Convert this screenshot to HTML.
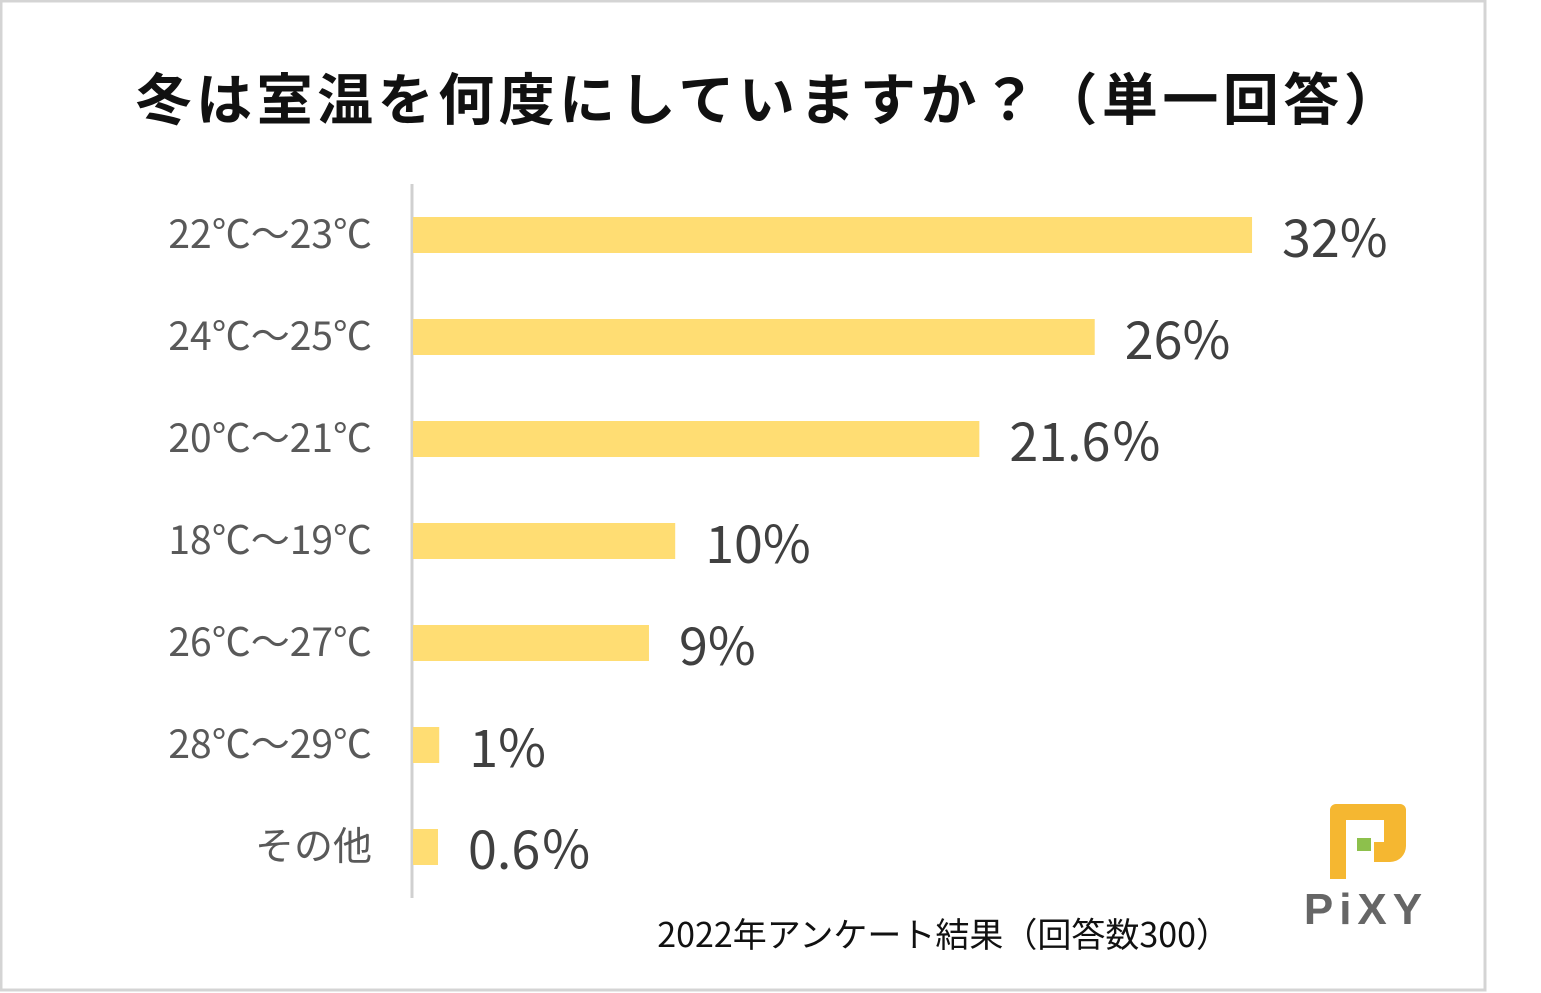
<!DOCTYPE html>
<html><head><meta charset="utf-8"><style>
html,body{margin:0;padding:0;background:#fff;}
#wrap{position:relative;width:1541px;height:993px;overflow:hidden;font-family:"Liberation Sans","Noto Sans CJK JP",sans-serif;}
</style></head><body>
<div id="wrap">
<svg id="chart" width="1541" height="993" xmlns="http://www.w3.org/2000/svg">
<rect x="1" y="1" width="1484" height="989" fill="#fff" stroke="#d4d4d4" stroke-width="3"/>
<text x="770" y="120" text-anchor="middle" font-size="56" font-weight="bold" letter-spacing="4.5" fill="#111" font-family="'Noto Sans CJK JP',sans-serif">冬は室温を何度にしていますか？（単一回答）</text>
<line x1="412" y1="184" x2="412" y2="898" stroke="#d0d0d0" stroke-width="3"/>
<g id="bars"></g>
<text x="1230" y="947" text-anchor="end" font-size="34" fill="#111" font-family="'Noto Sans CJK JP',sans-serif">2022年アンケート結果（回答数300）</text>
<g>
<path d="M1330 804 h70 a6 6 0 0 1 6 6 v36 a16 16 0 0 1 -16 16 h-16 v-20 h10 v-22 h-38 v59 h-16 v-69 a6 6 0 0 1 6 -6 z" fill="#F5B731"/>
<rect x="1357" y="838" width="14" height="13" fill="#8DC04C"/>
<text x="1366" y="924" text-anchor="middle" font-size="44" font-weight="bold" fill="#666" letter-spacing="6">PiXY</text>
</g>
</svg>
</div>
<script>
const categories=["22℃～23℃","24℃～25℃","20℃～21℃","18℃～19℃","26℃～27℃","28℃～29℃","その他"];
const values=[32,26,21.6,10,9,1,0.6];
const valueLabels=["32%","26%","21.6％","10%","9%","1%","0.6％"];
const ns="http://www.w3.org/2000/svg";
const g=document.getElementById('bars');
const x0=413, pxPer=26.22;
function xScale(v){return x0+v*pxPer;}
function yScale(i){return 235+i*102;}
categories.forEach((c,i)=>{
  const y=yScale(i);
  const w=Math.max(xScale(values[i])-x0,25);
  const r=document.createElementNS(ns,'rect');
  r.setAttribute('x',x0);r.setAttribute('y',y-18);r.setAttribute('width',w);r.setAttribute('height',36);r.setAttribute('fill','#FFDD73');
  
  
  g.appendChild(r);
  const t=document.createElementNS(ns,'text');
  t.setAttribute('x',372);t.setAttribute('y',y+13);t.setAttribute('text-anchor','end');t.setAttribute('font-size','39');t.setAttribute('fill','#595959');
  t.setAttribute('font-family',"'Noto Sans CJK JP',sans-serif");
  t.textContent=c;
  
  
  g.appendChild(t);
  const v=document.createElementNS(ns,'text');
  v.setAttribute('x',x0+w+30);v.setAttribute('y',y+22);v.setAttribute('font-size','52');v.setAttribute('fill','#404040');
  v.setAttribute('font-family',"'Noto Sans CJK JP',sans-serif");
  v.textContent=valueLabels[i];
  
  
  g.appendChild(v);
});
</script>
</body></html>
